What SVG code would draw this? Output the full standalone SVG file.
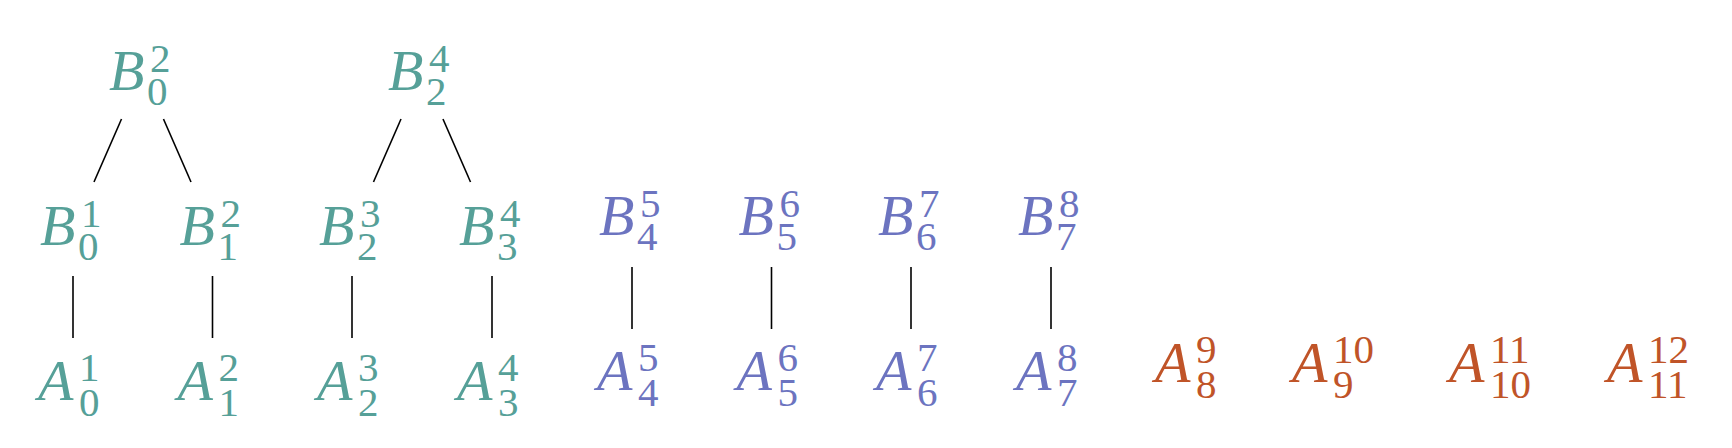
<svg xmlns="http://www.w3.org/2000/svg" width="1732" height="448" viewBox="0 0 1732 448">
<style>
.L{font-family:"Liberation Serif","Times New Roman",serif;font-style:italic;font-size:58px}
.S{font-family:"Liberation Serif","Times New Roman",serif;font-size:41px}
.g{fill:#56A098}
.p{fill:#6C74C0}
.o{fill:#C05428}
.c line{stroke:#000;stroke-width:1.6}
</style>
<rect width="1732" height="448" fill="#fff"/>
<g class="c" id="connectors">
<line x1="121.5" y1="119" x2="94" y2="182"/>
<line x1="163.5" y1="119" x2="191" y2="182"/>
<line x1="401" y1="119" x2="373.5" y2="182"/>
<line x1="443" y1="119" x2="470.5" y2="182"/>
<line x1="73" y1="276" x2="73" y2="338"/>
<line x1="212.5" y1="276" x2="212.5" y2="338"/>
<line x1="352" y1="276" x2="352" y2="338"/>
<line x1="492" y1="276" x2="492" y2="338"/>
<line x1="632" y1="267" x2="632" y2="329"/>
<line x1="771.5" y1="267" x2="771.5" y2="329"/>
<line x1="911" y1="267" x2="911" y2="329"/>
<line x1="1051" y1="267" x2="1051" y2="329"/>
</g>
<g id="B02" class="g"><text class="L" x="109" y="90">B</text><text class="S" x="150" y="72">2</text><text class="S" x="147" y="105">0</text></g>
<g id="B24" class="g"><text class="L" x="388" y="90">B</text><text class="S" x="429" y="72">4</text><text class="S" x="426" y="105">2</text></g>
<g id="B01" class="g"><text class="L" x="40" y="245">B</text><text class="S" x="81" y="227">1</text><text class="S" x="78" y="260">0</text></g>
<g id="B12" class="g"><text class="L" x="179.5" y="245">B</text><text class="S" x="220.5" y="227">2</text><text class="S" x="217.5" y="260">1</text></g>
<g id="B23" class="g"><text class="L" x="319" y="245">B</text><text class="S" x="360" y="227">3</text><text class="S" x="357" y="260">2</text></g>
<g id="B34" class="g"><text class="L" x="459" y="245">B</text><text class="S" x="500" y="227">4</text><text class="S" x="497" y="260">3</text></g>
<g id="A01" class="g"><text class="L" x="38" y="400">A</text><text class="S" x="79" y="381">1</text><text class="S" x="79" y="416">0</text></g>
<g id="A12" class="g"><text class="L" x="177.5" y="400">A</text><text class="S" x="218.5" y="381">2</text><text class="S" x="218.5" y="416">1</text></g>
<g id="A23" class="g"><text class="L" x="317" y="400">A</text><text class="S" x="358" y="381">3</text><text class="S" x="358" y="416">2</text></g>
<g id="A34" class="g"><text class="L" x="457" y="400">A</text><text class="S" x="498" y="381">4</text><text class="S" x="498" y="416">3</text></g>
<g id="B45" class="p"><text class="L" x="599" y="235">B</text><text class="S" x="640" y="217">5</text><text class="S" x="637" y="250">4</text></g>
<g id="B56" class="p"><text class="L" x="738.5" y="235">B</text><text class="S" x="779.5" y="217">6</text><text class="S" x="776.5" y="250">5</text></g>
<g id="B67" class="p"><text class="L" x="878" y="235">B</text><text class="S" x="919" y="217">7</text><text class="S" x="916" y="250">6</text></g>
<g id="B78" class="p"><text class="L" x="1018" y="235">B</text><text class="S" x="1059" y="217">8</text><text class="S" x="1056" y="250">7</text></g>
<g id="A45" class="p"><text class="L" x="597" y="390">A</text><text class="S" x="638" y="371">5</text><text class="S" x="638" y="406">4</text></g>
<g id="A56" class="p"><text class="L" x="736.5" y="390">A</text><text class="S" x="777.5" y="371">6</text><text class="S" x="777.5" y="406">5</text></g>
<g id="A67" class="p"><text class="L" x="876" y="390">A</text><text class="S" x="917" y="371">7</text><text class="S" x="917" y="406">6</text></g>
<g id="A78" class="p"><text class="L" x="1016" y="390">A</text><text class="S" x="1057" y="371">8</text><text class="S" x="1057" y="406">7</text></g>
<g id="A89" class="o"><text class="L" x="1155" y="382">A</text><text class="S" x="1196" y="363">9</text><text class="S" x="1196" y="398">8</text></g>
<g id="A910" class="o"><text class="L" x="1292" y="382">A</text><text class="S" x="1333" y="363">10</text><text class="S" x="1333" y="398">9</text></g>
<g id="A1011" class="o"><text class="L" x="1449" y="382">A</text><text class="S" x="1490" y="363">11</text><text class="S" x="1490" y="398">10</text></g>
<g id="A1112" class="o"><text class="L" x="1607" y="382">A</text><text class="S" x="1648" y="363">12</text><text class="S" x="1648" y="398">11</text></g>
</svg>
